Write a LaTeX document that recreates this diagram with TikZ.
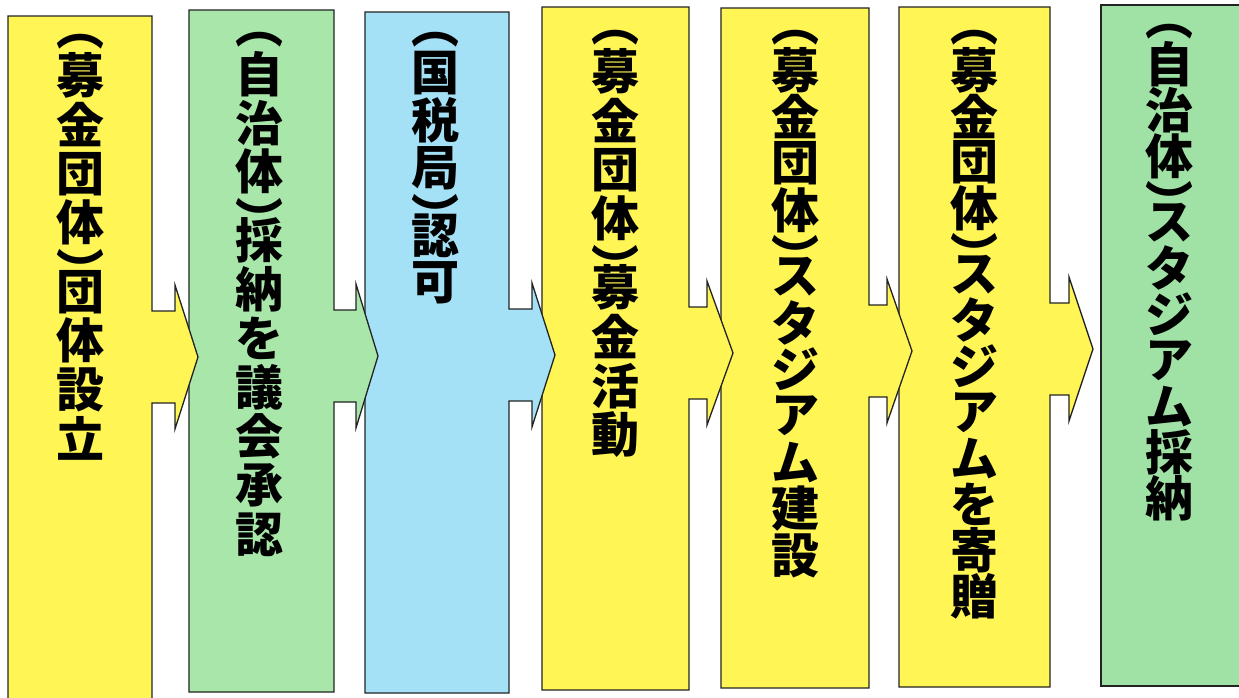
\documentclass[tikz,border=0pt]{standalone}
\usepackage{fontspec}
\newfontfamily\jpfont{Noto Sans CJK JP}[BoldFont={* Black}]
\definecolor{yel}{RGB}{255,245,85}
\definecolor{grn}{RGB}{168,230,170}
\definecolor{grnb}{RGB}{160,226,165}
\definecolor{blu}{RGB}{165,225,246}
\definecolor{colline}{RGB}{35,35,35}
\newdimen\VTpitch \VTpitch=48pt
\newdimen\VTpar \VTpar=20pt
\newdimen\VTtop \newdimen\VTbot \newdimen\VTshift
\def\VTchar#1{\hbox to 60pt{\hss\vbox to \VTpitch{\vss\hbox{#1}\vss}\hss}}
\def\VTparen#1{%
  \VTtop=\XeTeXglyphbounds2 \XeTeXcharglyph`#1\relax
  \VTbot=\XeTeXglyphbounds4 \XeTeXcharglyph`#1\relax
  \VTshift=\dimexpr(\VTbot-\VTtop)/2\relax
  \hbox to 60pt{\hss\vbox to \VTpar{\vss\hbox{\smash{\raise\VTshift\hbox to 0pt{\hss#1\hss}}}\vss}\hss}}
\def\VTitem#1{\ifx#1︵\VTparen{#1}\else\ifx#1︶\VTparen{#1}\else\VTchar{#1}\fi\fi}
\def\VTloop#1{\ifx\relax#1\else\VTitem{#1}\expandafter\VTloop\fi}
\newcommand\vtext[2]{\VTpitch=#1pt\vbox{\offinterlineskip\jpfont\bfseries\fontsize{48}{48}\selectfont\VTloop#2\relax}}
% fill, L, R, T, B, C, W, X
\newcommand\colarrow[8]{%
  \filldraw[fill=#1, colbox] (#2,#4) -- (#3,#4) -- (#3,#6-46) -- (#7,#6-46) -- (#7,#6-72) -- (#8,#6) -- (#7,#6+72) -- (#7,#6+46) -- (#3,#6+46) -- (#3,#5) -- (#2,#5) -- cycle;}
\tikzset{
  colbox/.style={draw=colline, line width=1.3pt, line join=miter},
  vlabel/.style={anchor=north, inner sep=0pt, text=black},
}
\begin{document}
\begin{tikzpicture}[x=1pt,y=-1pt]
\fill[white] (0,0) rectangle (1239,697);
\useasboundingbox (0,0) rectangle (1239,697);
% columns, drawn right to left so each arrow head lies over the next column
\filldraw[fill=grnb, colbox] (1101,5) rectangle (1242,686);
\colarrow{yel}{899}{1050}{7}{687}{349}{1069}{1093}
\colarrow{yel}{721}{869}{8}{688}{351}{887}{912}
\colarrow{yel}{542}{689}{7}{690}{353}{707}{733}
\colarrow{blu}{365}{509}{12}{693}{355}{532}{555}
\colarrow{grn}{189}{334}{10}{692}{356}{356}{378}
\colarrow{yel}{8}{152}{16}{700}{357}{175}{198}
% labels
\node[vlabel] (t1) at (80,31) {\vtext{49}{︵募金団体︶団体設立}};
\node[vlabel] (t2) at (259,29) {\vtext{49}{︵自治体︶採納を議会承認}};
\node[vlabel] (t3) at (435,29) {\vtext{47.5}{︵国税局︶認可}};
\node[vlabel] (t4) at (615,27) {\vtext{49}{︵募金団体︶募金活動}};
\node[vlabel] (t5) at (795,27) {\vtext{46.5}{︵募金団体︶スタジアム建設}};
\node[vlabel] (t6) at (974,27) {\vtext{46}{︵募金団体︶スタジアムを寄贈}};
\node[vlabel] (t7) at (1169,21) {\vtext{46}{︵自治体︶スタジアム採納}};
\end{tikzpicture}
\end{document}
